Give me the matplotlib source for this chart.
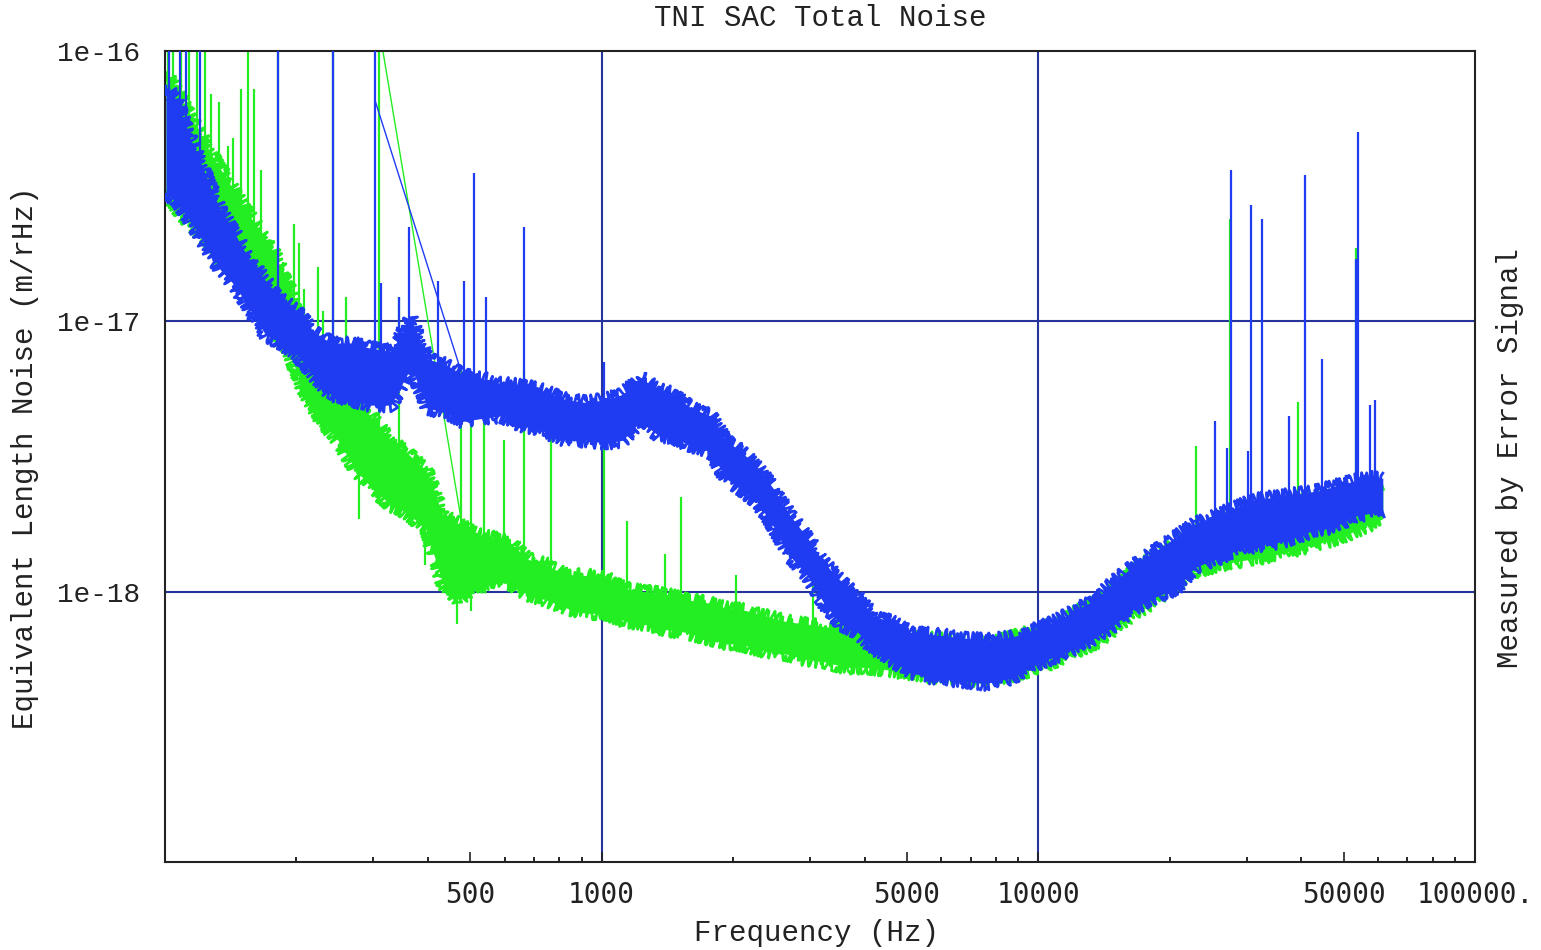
import numpy as np
import matplotlib
matplotlib.use('Agg')
import matplotlib.pyplot as plt
from matplotlib.ticker import FixedLocator, FixedFormatter, NullFormatter

# noise levels are stored as log10 of the equivalent length noise (m/rHz)

# blue trace: noise band (upper / lower edge)
blue_f = [100.5, 106, 114.7, 124, 134, 145, 157, 170, 184, 200, 219, 240, 266, 296, 329, 366,
          400, 440, 481, 528, 587, 670, 745, 828, 919, 1021, 1117, 1228, 1343, 1462, 1599, 1776,
          1922, 2080, 2275, 2476, 2705, 2958, 3220, 3524, 3855, 4190, 4583, 5093, 5808, 6633,
          7568, 8635, 9846, 10940, 12160, 13500, 15000, 16670, 18530, 20590, 22860, 25410,
          28240, 31390, 34860, 38740, 43050, 47850, 53090, 57500, 61500]
blue_top = [-16.13, -16.18, -16.33, -16.46, -16.59, -16.68, -16.78, -16.85, -16.92, -16.96,
            -17.04, -17.08, -17.08, -17.10, -17.11, -16.99, -17.14, -17.16, -17.20, -17.21,
            -17.23, -17.24, -17.26, -17.29, -17.30, -17.29, -17.27, -17.21, -17.25, -17.27,
            -17.32, -17.35, -17.44, -17.48, -17.54, -17.62, -17.72, -17.80, -17.89, -17.96,
            -18.02, -18.09, -18.11, -18.15, -18.16, -18.17, -18.18, -18.17, -18.14, -18.11,
            -18.07, -18.03, -17.96, -17.90, -17.85, -17.80, -17.75, -17.72, -17.69, -17.66,
            -17.65, -17.64, -17.63, -17.61, -17.59, -17.58, -17.58]
blue_bot = [-16.53, -16.55, -16.63, -16.72, -16.81, -16.87, -16.96, -17.05, -17.08, -17.12,
            -17.20, -17.27, -17.29, -17.31, -17.31, -17.17, -17.32, -17.34, -17.37, -17.36,
            -17.35, -17.39, -17.41, -17.44, -17.44, -17.45, -17.44, -17.37, -17.42, -17.43,
            -17.46, -17.48, -17.58, -17.62, -17.67, -17.76, -17.87, -17.94, -18.04, -18.12,
            -18.15, -18.21, -18.25, -18.30, -18.32, -18.33, -18.34, -18.32, -18.27, -18.24,
            -18.21, -18.17, -18.12, -18.06, -18.02, -17.99, -17.91, -17.88, -17.85, -17.83,
            -17.82, -17.80, -17.77, -17.76, -17.72, -17.71, -17.70]

# blue trace: line peaks
blue_spike_f = [102, 108, 112, 120, 181.4, 242.3, 302.3, 312, 343.2, 362, 421, 484, 509, 543,
                663, 1010, 25410, 27070, 27640, 30240, 30730, 32560, 37530, 40830, 44670,
                53430, 54000, 57510, 59030]
blue_spike_peak = [-15.9, -15.9, -15.9, -15.9, -15.9, -15.9, -15.9, -16.86, -16.91, -16.65,
                   -16.85, -16.85, -16.45, -16.91, -16.65, -17.15, -17.37, -17.47, -16.44,
                   -17.48, -16.57, -16.62, -17.35, -16.46, -17.14, -16.77, -16.30, -17.31, -17.29]

# green trace: noise band (upper / lower edge)
green_f = [100.5, 108.8, 117.8, 127.4, 139.3, 151.6, 164, 176.6, 191, 207, 227, 249, 273.5, 299,
           329, 360, 396, 433, 471, 515, 563, 619, 677, 745, 828, 919, 1021, 1135, 1261, 1400,
           1556, 1730, 1922, 2137, 2373, 2636, 2931, 3257, 3616, 4018, 4583, 5370, 6295, 7362,
           8635, 10110, 11830, 13860, 16240, 19010, 22270, 26080, 30530, 35780, 41880, 49060,
           61500]
green_top = [-16.08, -16.18, -16.28, -16.38, -16.48, -16.58, -16.66, -16.74, -16.86, -17.05,
             -17.18, -17.23, -17.29, -17.36, -17.44, -17.49, -17.55, -17.72, -17.75, -17.79,
             -17.80, -17.82, -17.88, -17.90, -17.94, -17.94, -17.95, -17.99, -18.00, -18.01,
             -18.03, -18.04, -18.06, -18.07, -18.09, -18.11, -18.12, -18.13, -18.14, -18.15,
             -18.16, -18.17, -18.18, -18.19, -18.17, -18.14, -18.09, -18.03, -17.93, -17.86,
             -17.79, -17.74, -17.71, -17.68, -17.66, -17.64, -17.61]
green_bot = [-16.52, -16.60, -16.66, -16.73, -16.80, -16.87, -16.94, -17.02, -17.10, -17.25,
             -17.36, -17.44, -17.55, -17.62, -17.68, -17.71, -17.77, -17.97, -18.03, -17.99,
             -17.96, -17.97, -18.01, -18.03, -18.06, -18.08, -18.08, -18.11, -18.12, -18.14,
             -18.15, -18.17, -18.19, -18.20, -18.22, -18.23, -18.25, -18.26, -18.28, -18.28,
             -18.29, -18.31, -18.32, -18.33, -18.31, -18.28, -18.23, -18.18, -18.09, -18.02,
             -17.93, -17.90, -17.88, -17.86, -17.83, -17.80, -17.73]

# green trace: line peaks and dips
green_spike_f = [101.6, 104.3, 108.8, 113.5, 118.4, 123.5, 127.4, 132.9, 139.3, 143.0, 149.2,
                 154.9, 159.8, 165.9, 174.8, 181.4, 186.2, 197.3, 202.6, 208, 224, 230, 242.3,
                 259.6, 308.8, 343.2, 475.4, 501, 537, 597, 663, 764, 1011, 1141, 1394, 1516,
                 2026, 3040, 22990, 27500, 39360, 53430]
green_spike_peak = [-15.9, -15.9, -15.9, -15.9, -15.9, -15.9, -16.16, -16.19, -16.35, -16.32,
                    -16.14, -15.9, -16.14, -16.44, -16.70, -15.9, -16.78, -16.64, -16.71, -16.88,
                    -16.80, -16.96, -15.9, -16.91, -15.9, -16.91, -17.17, -17.21, -17.29, -17.44,
                    -17.18, -17.29, -17.30, -17.74, -17.86, -17.65, -17.94, -17.95, -17.46,
                    -16.62, -17.30, -16.73]
green_dip_f = [277.9, 393.6, 465.6, 501]
green_dip = [-17.73, -17.90, -18.12, -18.07]

# straight segments where the sweep jumps between data blocks
blue_gap_f = [302.3, 475.4]
blue_gap = [-16.18, -17.18]
green_gap_f = [308.8, 480.8]
green_gap = [-15.91, -17.77]

blue_c = '#1f3cf2'
green_c = '#22ee22'
grid_c = '#25339a'
mono = 'Liberation Mono'


def band_mid(f, bf, top, bot):
    lf = np.log10(bf)
    return 0.5 * (np.interp(np.log10(f), lf, top) + np.interp(np.log10(f), lf, bot))


def draw_trace(ax, bf, top, bot, sf, speak, gf, gv, color, z):
    bf = np.array(bf)
    ax.fill_between(bf, 10 ** np.array(bot), 10 ** np.array(top), color=color, lw=0, zorder=z)
    # rough edges give the band its noisy look
    for edge in (top, bot):
        ln, = ax.plot(bf, 10 ** np.array(edge), color=color, lw=2.0, zorder=z)
        ln.set_sketch_params(scale=7, length=2.5, randomness=6)
    base = band_mid(np.array(sf), bf, top, bot)
    ax.vlines(sf, 10 ** base, 10 ** np.array(speak), color=color, lw=1.6, zorder=z)
    ax.plot(gf, 10 ** np.array(gv), color=color, lw=1.0, zorder=z)


fig = plt.figure(figsize=(15.41, 9.5), dpi=100)
ax = fig.add_axes([165 / 1541, 1 - 862 / 950, 1310 / 1541, 811 / 950])
ax.set_xscale('log')
ax.set_yscale('log')
ax.set_xlim(100, 100000)
ax.set_ylim(1e-19, 1e-16)

for xv in [1000, 10000]:
    ax.axvline(xv, color=grid_c, lw=1.5, zorder=1)
for yv in [1e-17, 1e-18]:
    ax.axhline(yv, color=grid_c, lw=1.5, zorder=1)

draw_trace(ax, green_f, green_top, green_bot, green_spike_f, green_spike_peak,
           green_gap_f, green_gap, green_c, 2)
gbase = band_mid(np.array(green_dip_f), np.array(green_f), green_top, green_bot)
ax.vlines(green_dip_f, 10 ** gbase, 10 ** np.array(green_dip), color=green_c, lw=1.6, zorder=2)
draw_trace(ax, blue_f, blue_top, blue_bot, blue_spike_f, blue_spike_peak,
           blue_gap_f, blue_gap, blue_c, 3)

# axes and ticks
for sp in ax.spines.values():
    sp.set_linewidth(1.5)
    sp.set_color('#222222')
ax.xaxis.set_major_locator(FixedLocator([500, 1000, 5000, 10000, 50000, 100000]))
ax.xaxis.set_major_formatter(FixedFormatter(['500', '1000', '5000', '10000', '50000', '100000.']))
minors = [200, 300, 400, 600, 700, 800, 900, 2000, 3000, 4000, 6000, 7000, 8000, 9000,
          20000, 30000, 40000, 60000, 70000, 80000, 90000]
ax.xaxis.set_minor_locator(FixedLocator(minors))
ax.xaxis.set_minor_formatter(NullFormatter())
ax.tick_params(axis='x', which='major', direction='in', length=7.2, width=1.2,
               pad=14, labelsize=20, colors='#222222', top=False)
ax.tick_params(axis='x', which='minor', direction='in', length=3.6, width=1.2, top=False)
for lab in ax.get_xticklabels():
    lab.set_family('DejaVu Sans Mono')

ax.yaxis.set_major_locator(FixedLocator([1e-16, 1e-17, 1e-18]))
ax.yaxis.set_major_formatter(FixedFormatter(['1e-16', '1e-17', '1e-18']))
ax.yaxis.set_minor_locator(FixedLocator([]))
ax.tick_params(axis='y', which='major', length=0, pad=18, labelsize=20, colors='#222222')
for lab in ax.get_yticklabels():
    lab.set_family(mono)

fig.text(820 / 1541, 1 - 18 / 950, 'TNI SAC Total Noise', ha='center', va='center',
         family=mono, fontsize=21, color='#222222')
fig.text(817 / 1541, 1 - 933 / 950, 'Frequency (Hz)', ha='center', va='center',
         family=mono, fontsize=21, color='#222222')
fig.text(25 / 1541, 1 - 458 / 950, 'Equivalent Length Noise (m/rHz)', ha='center', va='center',
         rotation=90, family=mono, fontsize=21, color='#222222')
fig.text(1510 / 1541, 1 - 458 / 950, 'Measured by Error Signal', ha='center', va='center',
         rotation=90, family=mono, fontsize=21, color='#222222')

fig.savefig('out.png', dpi=100)
plt.close(fig)
